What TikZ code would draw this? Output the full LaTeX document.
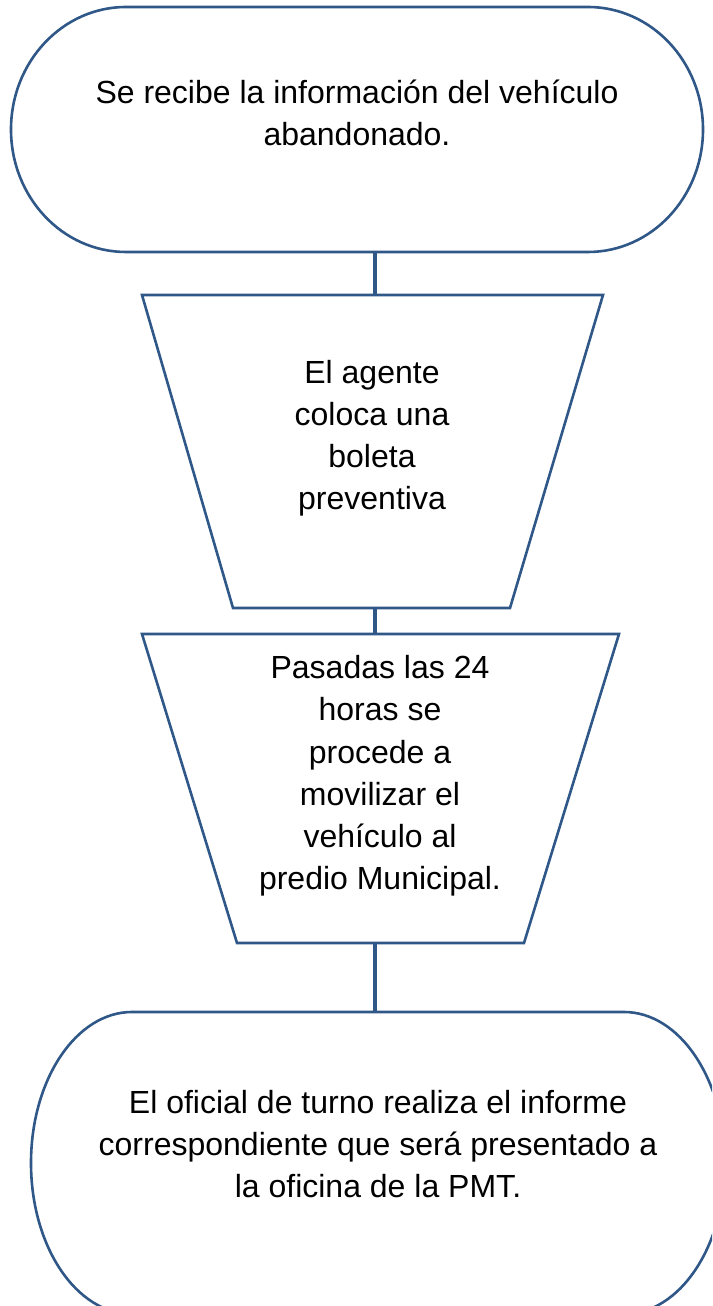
\documentclass[tikz,border=0pt]{standalone}
\usepackage{fontspec}
\setmainfont{Liberation Sans}
\definecolor{lineblue}{HTML}{2F5787}
\begin{document}
\begin{tikzpicture}[x=1pt,y=1pt,
  shapeline/.style={draw=lineblue,line width=2.6pt,line join=miter},
  conn/.style={draw=lineblue,line width=4pt},
  txt/.style={font=\fontsize{32}{42.3}\selectfont,align=center,inner sep=0pt,anchor=base}]
\useasboundingbox (0,0) rectangle (712,1306);
\clip (0,0) rectangle (712,1306);
\fill[white] (0,0) rectangle (712,1306);
% shape 1: start terminal
\draw[shapeline] (126,1299) -- (588,1299)
  arc[start angle=90,end angle=-90,x radius=115,y radius=122.5]
  -- (126,1054)
  arc[start angle=270,end angle=90,x radius=115,y radius=122.5] -- cycle;
\coordinate (s1b) at (375,1054);
\node[txt] (t1) at (357,1160) {Se recibe la información del vehículo\\abandonado.};
% trapezoid 1
\draw[shapeline] (142,1011) -- (603,1011) -- (510,698) -- (233,698) -- cycle;
\coordinate (p1t) at (375,1011);
\coordinate (p1b) at (375,698);
\node[txt] (t2) at (372,796) {El agente\\coloca una\\boleta\\preventiva};
% trapezoid 2
\draw[shapeline] (142,672) -- (619,672) -- (524,363) -- (237,363) -- cycle;
\coordinate (p2t) at (375,672);
\coordinate (p2b) at (375,363);
\node[txt] (t3) at (380,416) {Pasadas las 24\\horas se\\procede a\\movilizar el\\vehículo al\\predio Municipal.};
% shape 4: end terminal
\draw[shapeline] (132,294) -- (624,294)
  arc[start angle=90,end angle=-90,x radius=101,y radius=151]
  -- (132,-8)
  arc[start angle=270,end angle=90,x radius=101,y radius=151] -- cycle;
\coordinate (s4t) at (375,294);
\node[txt] (t4) at (378,108) {El oficial de turno realiza el informe\\correspondiente que será presentado a\\la oficina de la PMT.};
% connectors
\draw[conn] (s1b) -- (p1t);
\draw[conn] (p1b) -- (p2t);
\draw[conn] (p2b) -- (s4t);
\end{tikzpicture}
\end{document}
